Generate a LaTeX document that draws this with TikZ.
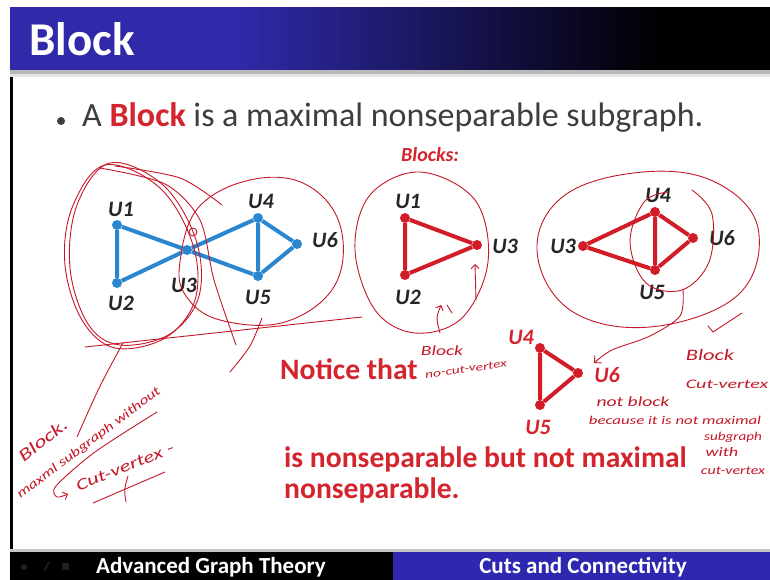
\documentclass[tikz,border=0pt]{standalone}
\usepackage{fontspec}
\setmainfont{Carlito}
\usetikzlibrary{arrows.meta, positioning}

\definecolor{titleblue}{RGB}{48,42,170}
\definecolor{footblue}{RGB}{46,40,176}
\definecolor{graphblue}{RGB}{42,134,206}
\definecolor{graphred}{RGB}{210,28,40}
\definecolor{textred}{RGB}{212,36,46}
\definecolor{inkred}{RGB}{196,24,40}
\definecolor{bodygray}{RGB}{62,62,62}
\definecolor{labelgray}{RGB}{38,38,38}

\begin{document}
\begin{tikzpicture}[x=1pt, y=-1pt,
  vtx/.style={circle, fill, inner sep=0pt, minimum size=10pt},
  vlabel/.style={font=\fontsize{22}{22}\selectfont\bfseries\itshape,
    text=labelgray, inner sep=0pt},
  edgeline/.style={line width=4pt},
  ink/.style={draw=inkred, line width=0.9pt, line cap=round, line join=round},
  scrawlbase/.style={text=inkred, font=\fontsize{13}{13}\selectfont\itshape,
    inner sep=0pt},
  scrawl/.style={scrawlbase, xscale=1.4},
  redtext/.style={text=textred, font=\fontsize{29.6}{29.6}\selectfont\bfseries,
    inner sep=0pt, anchor=base west}]
  \useasboundingbox (0,0) rectangle (770,580);
  \fill[white] (0,0) rectangle (770,580);

  % title bar
  \fill[titleblue] (10,7) rectangle (231,70);
  \foreach \i [evaluate=\i as \p using 100-2.35*\i] in {0,...,42}
    \fill[titleblue!\p!black] (230+10*\i,7) rectangle (241+10*\i,70);
  \fill[black] (660,7) rectangle (770,70);
  \fill[gray!55] (10,70) rectangle (770,74);
  \fill[gray!20] (10,74) rectangle (770,77);
  \node[text=white, font=\fontsize{47}{47}\selectfont\bfseries,
    inner sep=0pt, anchor=base west] (title) at (29,56) {Block};
  \fill[black] (10,77) rectangle (13,552);

  % definition
  \fill[bodygray] (61,121) circle (4);
  \node[text=bodygray, font=\fontsize{34}{34}\selectfont, inner sep=0pt,
    anchor=base west] (defn) at (82,127)
    {A \textcolor{textred}{\bfseries Block} is a maximal nonseparable subgraph.};

  % graph G
  \node[vtx, graphblue] (bu1) at (117,225) {};
  \node[vtx, graphblue] (bu2) at (117,283) {};
  \node[vtx, graphblue] (bu3) at (187,250) {};
  \node[vtx, graphblue] (bu4) at (258,218) {};
  \node[vtx, graphblue] (bu5) at (258,276) {};
  \node[vtx, graphblue] (bu6) at (297,244) {};
  \draw[graphblue, edgeline] (bu1) -- (bu2) -- (bu3) -- (bu1);
  \draw[graphblue, edgeline] (bu3) -- (bu4) -- (bu5) -- (bu3);
  \draw[graphblue, edgeline] (bu4) -- (bu6) -- (bu5);
  \node[vlabel] (lbu1) at (121,209) {U1};
  \node[vlabel] (lbu2) at (121,303) {U2};
  \node[vlabel] (lbu3) at (184,285) {U3};
  \node[vlabel] (lbu4) at (261,201) {U4};
  \node[vlabel] (lbu5) at (258,297) {U5};
  \node[vlabel] (lbu6) at (325,240) {U6};

  % blocks
  \node[text=textred, font=\fontsize{20}{20}\selectfont\bfseries\itshape,
    inner sep=0pt] (blocks) at (430,155) {Blocks:};
  \node[vtx, graphred] (ra1) at (405,218) {};
  \node[vtx, graphred] (ra2) at (405,275) {};
  \node[vtx, graphred] (ra3) at (477,245) {};
  \draw[graphred, edgeline] (ra1) -- (ra2) -- (ra3) -- (ra1);
  \node[vlabel] (lra1) at (408,201) {U1};
  \node[vlabel] (lra2) at (408,297) {U2};
  \node[vlabel] (lra3) at (505,246) {U3};

  \node[vtx, graphred] (rb3) at (583,246) {};
  \node[vtx, graphred] (rb4) at (655,212) {};
  \node[vtx, graphred] (rb5) at (655,270) {};
  \node[vtx, graphred] (rb6) at (693,238) {};
  \draw[graphred, edgeline] (rb3) -- (rb4) -- (rb5) -- (rb3);
  \draw[graphred, edgeline] (rb4) -- (rb6) -- (rb5);
  \node[vlabel] (lrb3) at (563,246) {U3};
  \node[vlabel] (lrb4) at (658,195) {U4};
  \node[vlabel] (lrb5) at (652,292) {U5};
  \node[vlabel] (lrb6) at (722,238) {U6};

  % notice
  \node[redtext] (notice) at (280,379) {Notice that};
  \node[vtx, graphred] (rc4) at (540,348) {};
  \node[vtx, graphred] (rc5) at (540,405) {};
  \node[vtx, graphred] (rc6) at (578,373) {};
  \draw[graphred, edgeline] (rc4) -- (rc5) -- (rc6) -- (rc4);
  \node[vlabel, text=textred] (lrc4) at (521,337) {U4};
  \node[vlabel, text=textred] (lrc5) at (538,427) {U5};
  \node[vlabel, text=textred] (lrc6) at (607,375) {U6};
  \node[redtext] (nonsep) at (284,467) {is nonseparable but not maximal};
  \node[redtext] (nonsep2) at (284,498) {nonseparable.};

  % pen marks
  \draw[ink] plot[smooth cycle, tension=0.6] coordinates {(105,165) (72,208)
    (65,265) (82,320) (115,348) (165,338) (195,300) (193,245) (160,188)};
  \draw[ink] plot[smooth cycle, tension=0.6] coordinates {(110,163) (77,205)
    (70,268) (88,324) (120,345) (170,334) (199,296) (196,240) (163,185)};
  \draw[ink] plot[smooth] coordinates {(100,168) (165,184) (200,220)
    (214,280) (236,345)};
  \draw[ink] plot[smooth] coordinates {(115,166) (180,178) (222,205)};
  \draw[ink] plot[smooth cycle, tension=0.65] coordinates {(180,262) (198,208)
    (250,180) (305,184) (340,225) (335,285) (285,322) (220,320) (186,296)};
  \draw[ink] (85,347) -- (362,317);
  \draw[ink] (123,343) .. controls (100,385) .. (77,437);
  \draw[ink] plot[smooth] coordinates {(262,318) (250,346) (230,372)};
  \draw[ink] (193,232) circle (4);

  \node[scrawlbase, font=\fontsize{17}{17}\selectfont\itshape, rotate=38, xscale=1.4]
    (wblock) at (43,440) {Block.};
  \node[scrawlbase, rotate=37, xscale=1.33] (wmax) at (89,443) {maxml subgraph without};
  \node[scrawlbase, font=\fontsize{16}{16}\selectfont\itshape, rotate=22, xscale=1.4]
    (wcut) at (125,467) {Cut-vertex -};
  \draw[ink, -{Straight Barb[length=4pt]}] plot[smooth] coordinates
    {(157,412) (95,452) (56,486) (57,497) (68,494)};
  \draw[ink] (93,503) -- (165,472);
  \draw[ink] (128,476) .. controls (124,490) .. (126,502);

  \draw[ink] plot[smooth cycle, tension=0.6] coordinates {(420,172) (370,195)
    (355,250) (375,310) (415,333) (462,318) (488,262) (475,200)};
  \draw[ink, -{Straight Barb[length=4pt]}] (440,333) .. controls (436,318) .. (441,305);
  \draw[ink] (447,305) -- (452,313);
  \draw[ink, -{Straight Barb[length=4pt]}] (476,300) -- (475,264);
  \node[scrawl, font=\fontsize{14}{14}\selectfont\itshape] (wblk1) at (442,351) {Block};
  \node[scrawlbase, font=\fontsize{11}{11}\selectfont\itshape, rotate=8, xscale=1.4]
    (wnocut) at (466,369) {no-cut-vertex};

  \draw[ink] plot[smooth cycle, tension=0.65] coordinates {(537,250) (565,195)
    (643,172) (715,182) (758,228) (738,295) (650,327) (570,310)};
  \draw[ink] plot[smooth, tension=0.6] coordinates {(668,192) (644,202) (630,242)
    (646,283) (682,290) (709,262) (712,214) (692,190)};
  \draw[ink, -{Straight Barb[length=5pt]}] plot[smooth] coordinates
    {(683,290) (680,316) (650,336) (612,350) (594,363)};
  \draw[ink] (708,326) -- (713,332) -- (742,313);
  \node[scrawl, font=\fontsize{16}{16}\selectfont\itshape] (wblk2) at (710,355) {Block};
  \node[scrawl, xscale=1.1] (wcut2) at (727,384) {Cut-vertex};
  \node[scrawl, font=\fontsize{14}{14}\selectfont\itshape] (wnot) at (633,402) {not block};
  \node[scrawl, font=\fontsize{12}{12}\selectfont\itshape] (wbec) at (675,420)
    {because it is not maximal};
  \node[scrawl, font=\fontsize{12}{12}\selectfont\itshape, xscale=0.9] (wsub) at (733,437) {subgraph};
  \node[scrawl, font=\fontsize{13}{13}\selectfont\itshape] (wwith) at (722,452) {with};
  \node[scrawl, font=\fontsize{12}{12}\selectfont\itshape, xscale=0.95] (wcv) at (733,471) {cut-vertex};

  % footer
  \fill[gray!45] (10,549) rectangle (770,552);
  \fill[black] (10,552) rectangle (393,580);
  \fill[footblue] (393,552) rectangle (770,580);
  \fill[gray!25!black] (24,567) circle (3);
  \draw[gray!25!black, line width=1.5pt] (44,571) -- (49,562);
  \fill[gray!25!black] (62,563) rectangle (69,570);
  \node[text=white, font=\fontsize{23}{23}\selectfont\bfseries] (course)
    at (211,567) {Advanced Graph Theory};
  \node[text=white, font=\fontsize{23}{23}\selectfont\bfseries] (topic)
    at (583,567) {Cuts and Connectivity};
\end{tikzpicture}
\end{document}
